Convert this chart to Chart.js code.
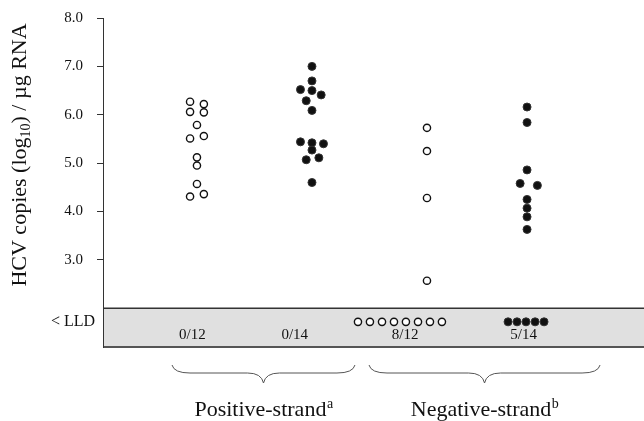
<!DOCTYPE html>
<html><head><meta charset="utf-8">
<script src="https://cdn.jsdelivr.net/npm/chart.js@4"></script>
<style>html,body{margin:0;padding:0;background:#fff}#wrap{width:644px;height:421px}</style>
</head><body><div id="wrap"><canvas id="c" width="644" height="421"></canvas></div>
<script>
const groupNames = ['Positive-strand', 'Negative-strand'];
const groupSup = ['a', 'b'];
const yTickValues = [3, 4, 5, 6, 7, 8];
const yTickLabels = ['3.0', '4.0', '5.0', '6.0', '7.0', '8.0'];
const yTitleParts = ['HCV copies (log', '10', ') / \u00b5g RNA'];
const lldLabel = '< LLD';
const fractionLabels = ['0/12', '0/14', '8/12', '5/14'];
const fractionX = [0.96, 1.85, 2.81, 3.84];
const groupX = [1, 2, 3, 3.87];
// Group 1: positive-strand, open circles
const g1Values = [6.27, 6.22, 6.06, 6.05, 5.79, 5.51, 5.56, 5.12, 4.95, 4.57, 4.31, 4.36];
const g1Offsets = [-0.06, 0.06, -0.06, 0.06, 0, -0.06, 0.06, 0, 0, 0, -0.06, 0.06];
// Group 2: positive-strand, filled circles
const g2Values = [7.0, 6.70, 6.52, 6.50, 6.41, 6.29, 6.09, 5.44, 5.42, 5.40, 5.27, 5.07, 5.11, 4.60];
const g2Offsets = [0, 0, -0.1, 0, 0.08, -0.05, 0, -0.1, 0, 0.1, 0, -0.05, 0.06, 0];
// Group 3: negative-strand, open circles
const g3Values = [5.73, 5.25, 4.28, 2.57];
const g3Offsets = [0, 0, 0, 0];
const g3LldOffsets = [-0.6, -0.496, -0.391, -0.287, -0.183, -0.078, 0.026, 0.13];
// Group 4: negative-strand, filled circles
const g4Values = [6.16, 5.84, 4.86, 4.58, 4.54, 4.25, 4.07, 3.89, 3.63];
const g4Offsets = [0, 0, 0, -0.06, 0.09, 0, 0, 0, 0];
const g4LldOffsets = [-0.165, -0.087, -0.009, 0.07, 0.148];
const LLD_VALUE = 1.72;
const LLD_TOP = 2.0;
const FRACTION_Y = 1.45;
const braceRanges = [[0.783, 2.374], [2.496, 4.505]];

function pts(gx, vals, offs) { return vals.map((v, i) => ({x: gx + offs[i], y: v})); }
function lldPts(gx, offs) { return offs.map(o => ({x: gx + o, y: LLD_VALUE})); }

const openStyle = {pointStyle: 'circle', pointRadius: 3.6, pointBackgroundColor: '#fff', pointBorderColor: '#111', pointBorderWidth: 1.4, showLine: false};
const fillStyle = {pointStyle: 'circle', pointRadius: 4, pointBackgroundColor: '#111', pointBorderColor: '#333', pointBorderWidth: 1, showLine: false};

const serif = 'Liberation Serif';

const decor = {
  id: 'decor',
  beforeDraw(chart) {
    const {ctx, chartArea: a, scales: {y}} = chart;
    const yTop = y.getPixelForValue(LLD_TOP);
    const right = chart.width;
    ctx.save();
    ctx.fillStyle = '#e0e0e0';
    ctx.fillRect(a.left, yTop, right - a.left, a.bottom - yTop);
    ctx.strokeStyle = '#333'; ctx.lineWidth = 1.5;
    ctx.beginPath(); ctx.moveTo(a.left, yTop); ctx.lineTo(right, yTop); ctx.stroke();
    ctx.strokeStyle = '#555'; ctx.lineWidth = 2;
    ctx.beginPath(); ctx.moveTo(a.left, a.bottom); ctx.lineTo(right, a.bottom); ctx.stroke();
    ctx.restore();
  },
  afterDraw(chart) {
    const {ctx, chartArea: a, scales: {x, y}} = chart;
    ctx.save();
    ctx.fillStyle = '#111';
    // LLD label
    ctx.font = '16px "' + serif + '"';
    ctx.textAlign = 'right'; ctx.textBaseline = 'middle';
    ctx.fillText(lldLabel, a.left - 8, y.getPixelForValue(LLD_VALUE));
    // fraction labels
    ctx.textAlign = 'center'; ctx.font = '15px "' + serif + '"';
    fractionLabels.forEach((t, i) => ctx.fillText(t, x.getPixelForValue(fractionX[i]), y.getPixelForValue(FRACTION_Y)));
    // braces
    ctx.strokeStyle = '#555'; ctx.lineWidth = 1;
    const by0 = a.bottom + 18, by1 = a.bottom + 26, by2 = a.bottom + 36;
    braceRanges.forEach((r, i) => {
      const x0 = x.getPixelForValue(r[0]), x1 = x.getPixelForValue(r[1]);
      const m = (x0 + x1) / 2;
      ctx.beginPath();
      ctx.moveTo(x0, by0);
      ctx.quadraticCurveTo(x0 + 2, by1, x0 + 18, by1);
      ctx.lineTo(m - 16, by1);
      ctx.quadraticCurveTo(m - 2, by1, m, by2);
      ctx.quadraticCurveTo(m + 2, by1, m + 16, by1);
      ctx.lineTo(x1 - 18, by1);
      ctx.quadraticCurveTo(x1 - 2, by1, x1, by0);
      ctx.stroke();
      // label
      const f1 = '22px "' + serif + '"', f2 = '14px "' + serif + '"';
      ctx.font = f1; const w1 = ctx.measureText(groupNames[i]).width;
      ctx.font = f2; const w2 = ctx.measureText(groupSup[i]).width;
      const sx = m - (w1 + w2) / 2, ly = a.bottom + 63;
      ctx.textAlign = 'left'; ctx.textBaseline = 'middle';
      ctx.font = f1; ctx.fillText(groupNames[i], sx, ly);
      ctx.font = f2; ctx.fillText(groupSup[i], sx + w1 + 0.5, ly - 6);
    });
    // y title
    ctx.translate(20, 155); ctx.rotate(-Math.PI / 2);
    const fA = '22px "' + serif + '"', fB = '14px "' + serif + '"';
    ctx.font = fA; const wa = ctx.measureText(yTitleParts[0]).width, wc = ctx.measureText(yTitleParts[2]).width;
    ctx.font = fB; const wb = ctx.measureText(yTitleParts[1]).width;
    let sx = -(wa + wb + wc) / 2;
    ctx.textAlign = 'left'; ctx.textBaseline = 'middle';
    ctx.font = fA; ctx.fillText(yTitleParts[0], sx, 0);
    ctx.font = fB; ctx.fillText(yTitleParts[1], sx + wa, 6);
    ctx.font = fA; ctx.fillText(yTitleParts[2], sx + wa + wb, 0);
    ctx.restore();
  }
};

new Chart(document.getElementById('c'), {
  type: 'scatter',
  data: {
    datasets: [
      Object.assign({data: pts(groupX[0], g1Values, g1Offsets)}, openStyle),
      Object.assign({data: pts(groupX[1], g2Values, g2Offsets)}, fillStyle),
      Object.assign({data: pts(groupX[2], g3Values, g3Offsets).concat(lldPts(groupX[2], g3LldOffsets))}, openStyle),
      Object.assign({data: pts(groupX[3], g4Values, g4Offsets).concat(lldPts(groupX[3], g4LldOffsets))}, fillStyle)
    ]
  },
  options: {
    responsive: false, animation: false, devicePixelRatio: 1,
    layout: {autoPadding: false, padding: {top: 18, bottom: 74, left: 0, right: 0}},
    plugins: {legend: {display: false}, tooltip: {enabled: false}},
    scales: {
      x: {type: 'linear', display: false, min: 0.183, max: 4.887},
      y: {
        type: 'linear', min: 1.2, max: 8,
        afterFit(s) { s.width = 103; s.paddingTop = 0; s.paddingBottom = 0; s.paddingLeft = 0; s.paddingRight = 0; },
        afterBuildTicks(s) { s.ticks = yTickValues.map(v => ({value: v})); },
        ticks: {callback: v => yTickLabels[yTickValues.indexOf(v)], color: '#111', font: {family: serif, size: 15}, padding: 14},
        grid: {drawOnChartArea: false, tickLength: 6, tickColor: '#333', tickWidth: 1},
        border: {color: '#333', width: 1}
      }
    }
  },
  plugins: [decor]
});
</script></body></html>
